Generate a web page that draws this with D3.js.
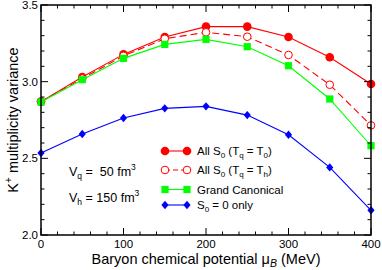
<!DOCTYPE html>
<html>
<head>
<meta charset="utf-8">
<script src="https://cdn.jsdelivr.net/npm/d3@7"></script>
<style>
  body { margin: 0; background: #fff; }
  text { font-family: "Liberation Sans", Arial, sans-serif; }
</style>
</head>
<body>
<div id="chart"></div>
<script>
// data
let mu = [0, 50, 100, 150, 200, 250, 300, 350, 400];
let allS0_T0 = [2.87, 3.03, 3.178, 3.291, 3.359, 3.359, 3.291, 3.159, 2.985];
let allS0_Th = [2.87, 3.02, 3.168, 3.28, 3.322, 3.293, 3.174, 2.98, 2.715];
let grandCan = [2.867, 3.013, 3.152, 3.243, 3.276, 3.228, 3.104, 2.887, 2.582];
let s0only   = [2.535, 2.659, 2.763, 2.826, 2.839, 2.782, 2.654, 2.441, 2.161];
let xTicks = [0, 100, 200, 300, 400];
let yTicks = [2.0, 2.5, 3.0, 3.5];

let width = 382, height = 270;
let margin = {top: 5, right: 11, bottom: 35, left: 41};

let svg = d3.select("#chart").append("svg")
    .attr("width", width)
    .attr("height", height);

let x = d3.scaleLinear().domain([0, 400]).range([margin.left, width - margin.right]);
let y = d3.scaleLinear().domain([2.0, 3.5]).range([height - margin.bottom, margin.top]);

let series = [
  {name: "all0", vals: allS0_T0, color: "#ff0000", marker: "circle", dash: null},
  {name: "allh", vals: allS0_Th, color: "#ff0000", marker: "open", dash: "7,4"},
  {name: "gc",   vals: grandCan, color: "#00ff00", marker: "square", dash: null},
  {name: "s0",   vals: s0only,   color: "#0000ff", marker: "diamond", dash: null}
];

function drawMarker(g, type, color, cx, cy) {
  if (type == "circle") {
    g.append("circle").attr("cx", cx).attr("cy", cy).attr("r", 4.3).attr("fill", color);
  } else if (type == "open") {
    g.append("circle").attr("cx", cx).attr("cy", cy).attr("r", 3.8)
      .attr("fill", "#fff").attr("stroke", color).attr("stroke-width", 1);
  } else if (type == "square") {
    g.append("rect").attr("x", cx - 3.6).attr("y", cy - 3.6).attr("width", 7.2).attr("height", 7.2).attr("fill", color);
  } else {
    g.append("path").attr("d", "M" + cx + "," + (cy - 4.2) + "L" + (cx + 3.6) + "," + cy + "L" + cx + "," + (cy + 4.2) + "L" + (cx - 3.6) + "," + cy + "Z")
      .attr("fill", color);
  }
}

let line = d3.line();

series.forEach(s => {
  let pts = mu.map((m, i) => [x(m), y(s.vals[i])]);
  svg.append("path")
    .attr("d", line(pts))
    .attr("fill", "none")
    .attr("stroke", s.color)
    .attr("stroke-width", 1.1)
    .attr("stroke-dasharray", s.dash);
  let g = svg.append("g");
  pts.forEach(p => drawMarker(g, s.marker, s.color, p[0], p[1]));
});

// axes, ticks inside on all four sides
let x0 = x.range()[0], x1 = x.range()[1], y0 = y.range()[0], y1 = y.range()[1];
let axes = svg.append("g");
axes.append("rect").attr("x", x0).attr("y", y1).attr("width", x1 - x0).attr("height", y0 - y1)
  .attr("fill", "none").attr("stroke", "#000").attr("stroke-width", 1.5);

d3.range(0, 401, 20).forEach(v => {
  let len = (v % 100 == 0) ? 7 : 3.5;
  axes.append("line").attr("x1", x(v)).attr("x2", x(v)).attr("y1", y0).attr("y2", y0 - len).attr("stroke", "#000");
  axes.append("line").attr("x1", x(v)).attr("x2", x(v)).attr("y1", y1).attr("y2", y1 + len).attr("stroke", "#000");
});
d3.range(20, 36).forEach(k => {
  let v = k / 10;
  let len = (k % 5 == 0) ? 7 : 3.5;
  axes.append("line").attr("x1", x0).attr("x2", x0 + len).attr("y1", y(v)).attr("y2", y(v)).attr("stroke", "#000");
  axes.append("line").attr("x1", x1).attr("x2", x1 - len).attr("y1", y(v)).attr("y2", y(v)).attr("stroke", "#000");
});

xTicks.forEach(v => {
  svg.append("text").attr("x", x(v)).attr("y", y0 + 13).attr("text-anchor", "middle")
    .attr("font-size", 11.5).text(v);
});
yTicks.forEach(v => {
  svg.append("text").attr("x", x0 - 3).attr("y", y(v) + 4).attr("text-anchor", "end")
    .attr("font-size", 11.5).text(v.toFixed(1));
});

// axis titles
let xl = svg.append("text").attr("x", 206).attr("y", 264).attr("text-anchor", "middle").attr("font-size", 14.5);
xl.append("tspan").text("Baryon chemical potential \u03bc");
xl.append("tspan").attr("font-size", 10.5).attr("font-style", "italic").attr("dy", 3).text("B");
xl.append("tspan").attr("dy", -3).text(" (MeV)");

let yl = svg.append("text").attr("transform", "translate(18,120) rotate(-90)")
  .attr("text-anchor", "middle").attr("font-size", 14.5);
yl.append("tspan").text("K");
yl.append("tspan").attr("font-size", 10).attr("dy", -6).text("+");
yl.append("tspan").attr("dy", 6).text(" multiplicity variance");

// volume notes
function sub(t, main, s, rest, sup) {
  t.append("tspan").text(main);
  t.append("tspan").attr("font-size", 8.5).attr("dy", 3).text(s);
  t.append("tspan").attr("dy", -3).text(rest);
  t.append("tspan").attr("font-size", 8.5).attr("dy", -6).text(sup);
}
sub(svg.append("text").attr("x", 69).attr("y", 176).attr("font-size", 12.5).attr("xml:space", "preserve"), "V", "q", " =  50 fm", "3");
sub(svg.append("text").attr("x", 69).attr("y", 202).attr("font-size", 12.5), "V", "h", " = 150 fm", "3");

// legend
let legRows = [155, 174, 193.5, 209];
let legend = svg.append("g");
series.forEach((s, i) => {
  let ly = legRows[i] - 4;
  legend.append("line").attr("x1", 165).attr("x2", 187).attr("y1", ly).attr("y2", ly)
    .attr("stroke", s.color).attr("stroke-width", 1.1).attr("stroke-dasharray", s.dash ? "5,3" : null);
  drawMarker(legend, s.marker, s.color, 165, ly);
  drawMarker(legend, s.marker, s.color, 187, ly);
});
function legText(i) {
  return legend.append("text").attr("x", 197).attr("y", legRows[i]).attr("font-size", 11.5);
}
let t0 = legText(0);
t0.append("tspan").text("All S");
t0.append("tspan").attr("font-size", 8).attr("dy", 3).text("0");
t0.append("tspan").attr("dy", -3).text(" (T");
t0.append("tspan").attr("font-size", 8).attr("dy", 3).text("q");
t0.append("tspan").attr("dy", -3).text(" = T");
t0.append("tspan").attr("font-size", 8).attr("dy", 3).text("0");
t0.append("tspan").attr("dy", -3).text(")");
let t1 = legText(1);
t1.append("tspan").text("All S");
t1.append("tspan").attr("font-size", 8).attr("dy", 3).text("0");
t1.append("tspan").attr("dy", -3).text(" (T");
t1.append("tspan").attr("font-size", 8).attr("dy", 3).text("q");
t1.append("tspan").attr("dy", -3).text(" = T");
t1.append("tspan").attr("font-size", 8).attr("dy", 3).text("h");
t1.append("tspan").attr("dy", -3).text(")");
legText(2).text("Grand Canonical");
let t3 = legText(3);
t3.append("tspan").text("S");
t3.append("tspan").attr("font-size", 8).attr("dy", 3).text("0");
t3.append("tspan").attr("dy", -3).text(" = 0 only");
</script>
</body>
</html>
